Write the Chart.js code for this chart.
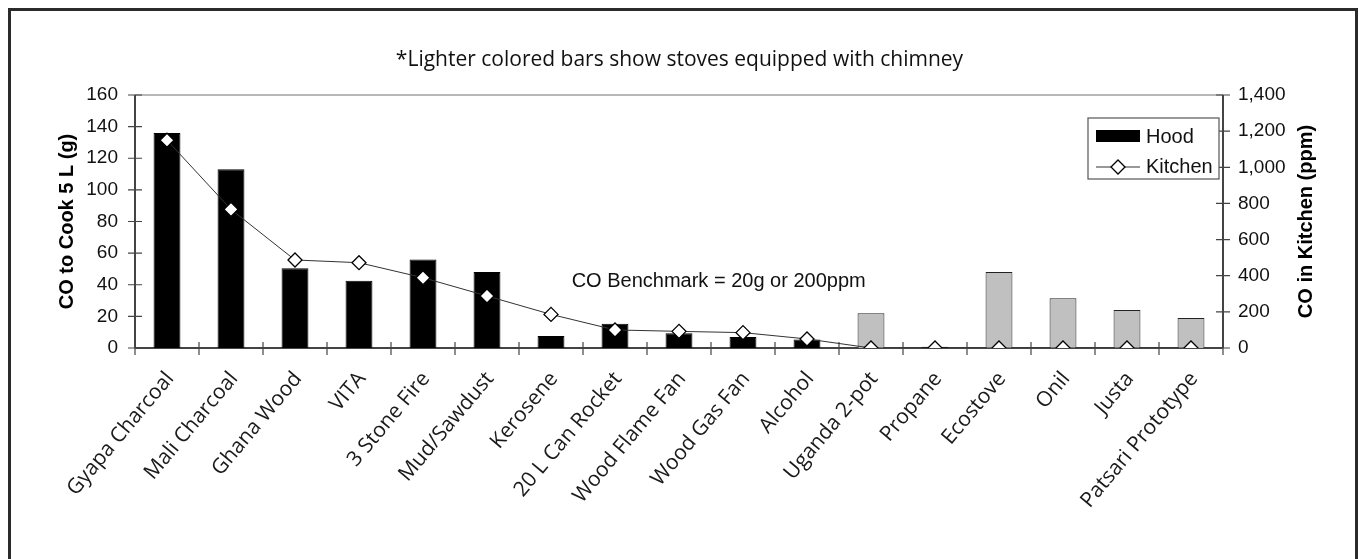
<!DOCTYPE html>
<html>
<head>
<meta charset="utf-8">
<script src="https://cdn.jsdelivr.net/npm/chart.js@4/dist/chart.umd.min.js"></script>
<style>
  body { margin: 0; background: #fff; }
  #wrap { position: relative; width: 1359px; height: 559px; overflow: hidden; }
  #frame { position: absolute; left: 8px; top: 8px; width: 1344px; height: 600px;
           border: 3px solid #2b2b2b; pointer-events: none; }
</style>
</head>
<body>
<div id="wrap">
  <canvas id="myChart" width="1359" height="559"></canvas>
  <div id="frame"></div>
</div>
<script>
const stoves = [
  'Gyapa Charcoal', 'Mali Charcoal', 'Ghana Wood', 'VITA', '3 Stone Fire',
  'Mud/Sawdust', 'Kerosene', '20 L Can Rocket', 'Wood Flame Fan', 'Wood Gas Fan',
  'Alcohol', 'Uganda 2-pot', 'Propane', 'Ecostove', 'Onil', 'Justa', 'Patsari Prototype'
];

// CO to cook 5 L (g), left axis
const hood = [136, 113, 50.5, 42.5, 56, 48, 7.6, 15.4, 9.3, 7, 5.3, 22, 0.8, 48, 31.4, 24, 19];

// CO in kitchen (ppm), right axis
const kitchen = [1150, 767, 487, 472, 389, 288, 186, 100, 92, 85, 50, 0, 0, 0, 0, 0, 0];

// true = stove equipped with chimney (lighter bar)
const chimney = [false, false, false, false, false, false, false, false, false, false,
  false, true, false, true, true, true, true];

const leftTicks = [0, 20, 40, 60, 80, 100, 120, 140, 160];
const rightTicks = [0, 200, 400, 600, 800, 1000, 1200, 1400];

const arial = '"Liberation Sans", Arial, sans-serif';
const tickFont = { family: arial, size: 19 };
const titleFont = { family: arial, size: 20, weight: 'bold' };

const axesDecor = {
  id: 'axesDecor',
  beforeDatasetsDraw(chart) {
    const { ctx, chartArea: a, scales: { x, y, y1 } } = chart;
    ctx.save();
    // top line of plot area
    ctx.strokeStyle = '#a0a0a0';
    ctx.lineWidth = 1.5;
    ctx.beginPath();
    ctx.moveTo(a.left, a.top);
    ctx.lineTo(a.right, a.top);
    ctx.stroke();

    ctx.strokeStyle = '#444';
    ctx.lineWidth = 2;
    ctx.beginPath();
    ctx.moveTo(a.left, a.top);
    ctx.lineTo(a.left, a.bottom);
    ctx.moveTo(a.right, a.top);
    ctx.lineTo(a.right, a.bottom);
    ctx.moveTo(a.left, a.bottom);
    ctx.lineTo(a.right, a.bottom);
    ctx.stroke();

    ctx.lineWidth = 1.2;
    ctx.beginPath();
    leftTicks.forEach(v => {
      const py = y.getPixelForValue(v);
      ctx.moveTo(a.left - 7, py);
      ctx.lineTo(a.left + 7, py);
    });
    rightTicks.forEach(v => {
      const py = y1.getPixelForValue(v);
      ctx.moveTo(a.right - 7, py);
      ctx.lineTo(a.right + 7, py);
    });
    const step = x.getPixelForValue(1) - x.getPixelForValue(0);
    for (let i = 0; i <= stoves.length; i++) {
      const px = x.getPixelForValue(0) - step / 2 + i * step;
      ctx.moveTo(px, a.bottom - 6);
      ctx.lineTo(px, a.bottom + 7);
    }
    ctx.stroke();
    ctx.restore();
  },
  afterDraw(chart) {
    const { ctx, chartArea: a, scales: { x, y } } = chart;
    ctx.save();
    // right axis title, reading bottom to top like the left one
    ctx.fillStyle = '#000';
    ctx.font = 'bold 20px ' + arial;
    ctx.textAlign = 'center';
    ctx.textBaseline = 'middle';
    ctx.translate(1306, (a.top + a.bottom) / 2);
    ctx.rotate(-Math.PI / 2);
    ctx.fillText('CO in Kitchen (ppm)', 0, 0);
    ctx.restore();

    ctx.save();
    // benchmark note
    ctx.fillStyle = '#111';
    ctx.font = '20px ' + arial;
    ctx.textAlign = 'center';
    ctx.textBaseline = 'middle';
    ctx.fillText('CO Benchmark = 20g or 200ppm', x.getPixelForValue(8.62), y.getPixelForValue(42));

    // legend box
    const lx = 1088, ly = 118, lw = 131, lh = 61;
    ctx.fillStyle = '#fff';
    ctx.fillRect(lx, ly, lw, lh);
    ctx.strokeStyle = '#555';
    ctx.lineWidth = 1.2;
    ctx.strokeRect(lx, ly, lw, lh);

    ctx.fillStyle = '#000';
    ctx.fillRect(lx + 8, ly + 12, 44, 12);

    ctx.strokeStyle = '#333';
    ctx.lineWidth = 1;
    ctx.beginPath();
    ctx.moveTo(lx + 8, ly + 49);
    ctx.lineTo(lx + 52, ly + 49);
    ctx.stroke();
    const cx = lx + 30, cy = ly + 49, r = 7;
    ctx.beginPath();
    ctx.moveTo(cx - r, cy);
    ctx.lineTo(cx, cy - r);
    ctx.lineTo(cx + r, cy);
    ctx.lineTo(cx, cy + r);
    ctx.closePath();
    ctx.fillStyle = '#fff';
    ctx.fill();
    ctx.strokeStyle = '#000';
    ctx.lineWidth = 1.3;
    ctx.stroke();

    ctx.fillStyle = '#111';
    ctx.font = '20px ' + arial;
    ctx.textAlign = 'left';
    ctx.textBaseline = 'middle';
    ctx.fillText('Hood', lx + 58, ly + 19);
    ctx.fillText('Kitchen', lx + 58, ly + 49);
    ctx.restore();
  }
};

const data = {
  labels: stoves,
  datasets: [{
    type: 'line',
    label: 'Kitchen',
    data: kitchen,
    yAxisID: 'y1',
    borderColor: '#333',
    borderWidth: 1,
    pointStyle: 'rectRot',
    pointRadius: 7,
    pointBackgroundColor: '#fff',
    pointBorderColor: '#000',
    pointBorderWidth: 1.3,
    tension: 0,
    order: 0
  }, {
    type: 'bar',
    label: 'Hood',
    data: hood,
    yAxisID: 'y',
    backgroundColor: chimney.map(c => c ? '#c0c0c0' : '#000'),
    borderColor: chimney.map(c => c ? '#222' : '#000'),
    borderWidth: 1,
    barPercentage: 0.42,
    categoryPercentage: 1,
    order: 1
  }]
};

const config = {
  type: 'bar',
  data: data,
  plugins: [axesDecor],
  options: {
    responsive: false,
    animation: false,
    devicePixelRatio: 1,
    layout: { padding: 0 },
    plugins: {
      legend: { display: false },
      tooltip: { enabled: false },
      title: {
        display: true,
        text: '*Lighter colored bars show stoves equipped with chimney',
        color: '#111',
        font: { family: '"Open Sans", sans-serif', size: 21, weight: 'normal' },
        padding: { top: 47.4, bottom: 22.4 }
      }
    },
    scales: {
      x: {
        type: 'category',
        offset: true,
        grid: { display: false, drawTicks: false },
        border: { display: false },
        ticks: {
          color: '#1a1a1a',
          font: { family: '"Open Sans", sans-serif', size: 21 },
          minRotation: 50,
          maxRotation: 50,
          autoSkip: false,
          padding: 19,
          labelOffset: 3
        },
        afterFit(scale) { scale.height = 211; }
      },
      y: {
        position: 'left',
        min: 0,
        max: 160,
        grid: { display: false, drawTicks: false },
        border: { display: false },
        afterBuildTicks(scale) { scale.ticks = leftTicks.map(v => ({ value: v })); },
        ticks: { color: '#111', font: tickFont, padding: 17 },
        title: {
          display: true,
          text: 'CO to Cook 5 L (g)',
          color: '#000',
          font: titleFont,
          padding: { top: 55.5, bottom: 0 }
        },
        afterFit(scale) { scale.width = 135; }
      },
      y1: {
        position: 'right',
        min: 0,
        max: 1400,
        grid: { display: false, drawTicks: false },
        border: { display: false },
        afterBuildTicks(scale) { scale.ticks = rightTicks.map(v => ({ value: v })); },
        ticks: {
          color: '#111',
          font: tickFont,
          padding: 15,
          callback: v => v.toLocaleString('en-US')
        },
        afterFit(scale) { scale.width = 136; }
      }
    }
  }
};

new Chart(document.getElementById('myChart'), config);
</script>
</body>
</html>
